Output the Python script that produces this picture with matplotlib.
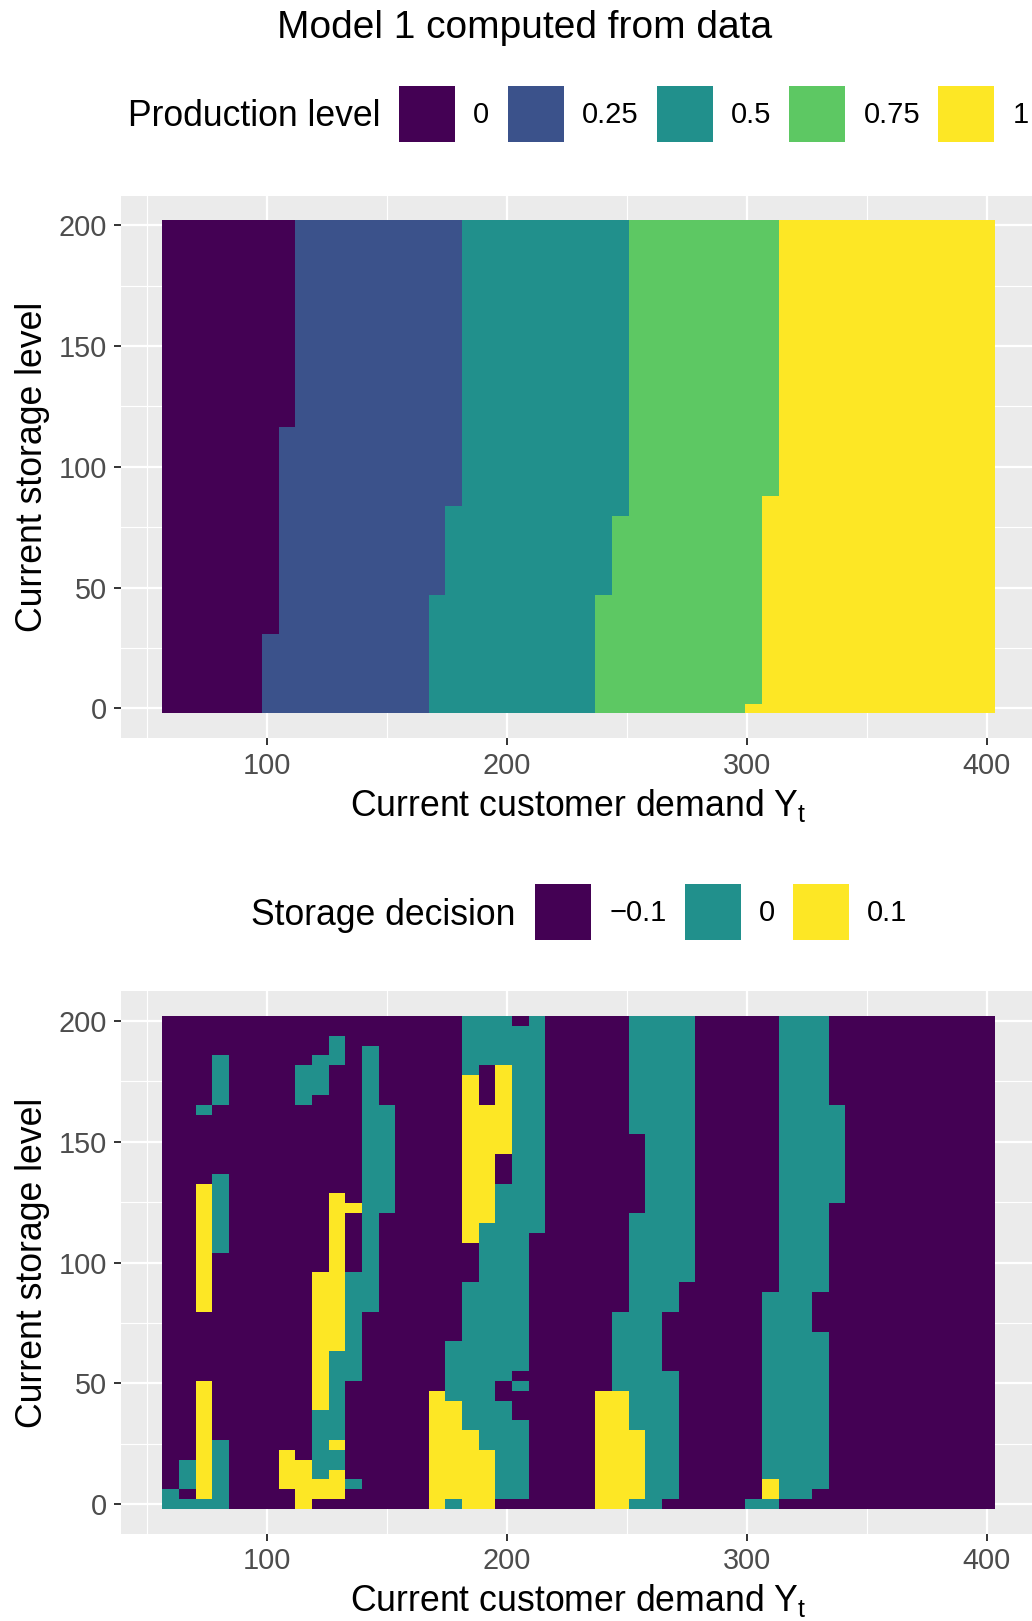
import numpy as np
import matplotlib.pyplot as plt
from matplotlib.colors import ListedColormap, BoundaryNorm
from matplotlib.patches import Patch

plt.rcParams['font.family'] = ['Liberation Sans', 'DejaVu Sans']
plt.rcParams['mathtext.fontset'] = 'custom'
plt.rcParams['mathtext.rm'] = 'Liberation Sans'
plt.rcParams['mathtext.it'] = 'Liberation Sans:italic'

# grid of the policy: 50 demand values x 50 storage values
demand = np.linspace(60, 400, 50)
storage = np.linspace(0, 200, 50)

# production level: first demand column of each level, per storage band (band starts at row)
prod_levels = [0, 0.25, 0.5, 0.75, 1]
prod_labels = ['0', '0.25', '0.5', '0.75', '1']
rows_025, cols_025 = [0, 8, 29], [6, 7, 8]
rows_050, cols_050 = [0, 12, 21], [16, 17, 18]
rows_075, cols_075 = [0, 12, 20], [26, 27, 28]
rows_100, cols_100 = [0, 1, 22], [35, 36, 37]

# storage decision: everything is -0.1 except these runs (column, first row, last row)
decision_levels = [-0.1, 0, 0.1]
decision_labels = ['\u22120.1', '0', '0.1']
hold_runs = [
    (0, 0, 1), (1, 0, 0), (1, 2, 4), (2, 0, 0), (2, 40, 40),
    (3, 0, 6), (3, 26, 33), (3, 41, 45), (8, 41, 44),
    (9, 3, 9), (9, 42, 45), (10, 4, 5), (10, 7, 15), (10, 45, 47),
    (11, 2, 2), (11, 13, 23), (12, 20, 46), (13, 30, 40),
    (17, 0, 0), (17, 11, 16), (18, 8, 22), (18, 44, 49),
    (19, 6, 28), (19, 45, 49), (20, 1, 10), (20, 13, 32), (20, 45, 49),
    (21, 1, 8), (21, 12, 12), (21, 14, 48), (22, 28, 49),
    (27, 12, 19), (28, 0, 0), (28, 8, 29), (28, 38, 49), (29, 0, 49),
    (30, 1, 13), (30, 20, 49), (31, 23, 49), (35, 0, 0),
    (36, 0, 0), (36, 3, 21), (37, 1, 49), (38, 1, 49),
    (39, 2, 17), (39, 22, 49), (40, 31, 40),
]
raise_runs = [
    (2, 1, 12), (2, 20, 32), (7, 2, 5), (8, 0, 4),
    (9, 1, 2), (9, 10, 23), (10, 1, 3), (10, 6, 6), (10, 16, 31),
    (11, 30, 30), (16, 0, 11), (17, 1, 10), (18, 0, 7), (18, 27, 43),
    (19, 0, 5), (19, 29, 40), (20, 36, 44),
    (26, 0, 11), (27, 0, 11), (28, 1, 7), (36, 1, 2),
]

viridis5 = ['#440154', '#3B528B', '#21908C', '#5DC863', '#FDE725']
viridis3 = ['#440154', '#21908C', '#FDE725']

prod = np.zeros((len(storage), len(demand)))
for level, rows, cols in zip(prod_levels[1:],
                             [rows_025, rows_050, rows_075, rows_100],
                             [cols_025, cols_050, cols_075, cols_100]):
    ends = rows[1:] + [len(storage)]
    for r0, r1, c0 in zip(rows, ends, cols):
        prod[r0:r1, c0:] = level

decision = np.full((len(storage), len(demand)), decision_levels[0])
for col, r0, r1 in hold_runs:
    decision[r0:r1 + 1, col] = decision_levels[1]
for col, r0, r1 in raise_runs:
    decision[r0:r1 + 1, col] = decision_levels[2]

W, H = 1032, 1621
fig = plt.figure(figsize=(W / 100, H / 100), dpi=100)


def px_box(left, top, right, bottom):
    return [left / W, 1 - bottom / H, (right - left) / W, (bottom - top) / H]


def style_axes(ax):
    ax.set_facecolor('#EBEBEB')
    for s in ax.spines.values():
        s.set_visible(False)
    ax.set_xlim(39.2, 420.8)
    ax.set_ylim(-12.24, 212.24)
    ax.set_xticks([100, 200, 300, 400])
    ax.set_yticks([0, 50, 100, 150, 200])
    ax.set_xticks([50, 150, 250, 350], minor=True)
    ax.set_yticks([25, 75, 125, 175], minor=True)
    ax.set_axisbelow(True)
    ax.grid(which='major', color='white', linewidth=1.6)
    ax.grid(which='minor', color='white', linewidth=0.8)
    ax.tick_params(which='major', length=5, width=1.4, color='#333333',
                   labelcolor='#4D4D4D', labelsize=20.8, pad=5)
    ax.tick_params(which='minor', length=0)
    ax.set_xlabel('Current customer demand $\\mathregular{Y_t}$', fontsize=25.7, labelpad=5)
    ax.set_ylabel('Current storage level', fontsize=25.7, labelpad=6)


def draw_legend(title, levels, labels, colors, key_left, center_y, title_right, baseline):
    handles = [Patch(facecolor=c, edgecolor='none') for c in colors]
    fs = 21.0
    fs_px = fs * 100 / 72
    # key box of 56 x 56 px (legend trims the patch height by its descent heuristic)
    key_h = (56 / fs_px - 0.245) / 0.65
    fig.legend(handles, labels, ncol=len(levels), frameon=False, fontsize=fs,
               loc='center left', bbox_to_anchor=(key_left / W, 1 - center_y / H),
               borderpad=0, borderaxespad=0, handlelength=56 / fs_px, handleheight=key_h,
               handletextpad=18.2 / fs_px, columnspacing=18.2 / fs_px)
    fig.text(title_right / W, 1 - baseline / H, title, ha='right', va='baseline', fontsize=25.6)


ax1 = fig.add_axes(px_box(120.6, 195.7, 1036.7, 738.0))
style_axes(ax1)
ax1.pcolormesh(demand, storage, prod, shading='nearest',
               cmap=ListedColormap(viridis5),
               norm=BoundaryNorm([-0.125, 0.125, 0.375, 0.625, 0.875, 1.125], 5),
               antialiased=False, linewidth=0, rasterized=True)

ax2 = fig.add_axes(px_box(120.6, 991.4, 1036.7, 1533.6))
style_axes(ax2)
ax2.pcolormesh(demand, storage, decision, shading='nearest',
               cmap=ListedColormap(viridis3),
               norm=BoundaryNorm([-0.15, -0.05, 0.05, 0.15], 3),
               antialiased=False, linewidth=0, rasterized=True)

fig.text(525 / W, 1 - 37.5 / H, 'Model 1 computed from data', ha='center', va='baseline', fontsize=28)
draw_legend('Production level', prod_levels, prod_labels, viridis5, 399, 114, 380, 126)
draw_legend('Storage decision', decision_levels, decision_labels, viridis3, 535, 912, 515, 925)

fig.savefig('out.png', dpi=100)
